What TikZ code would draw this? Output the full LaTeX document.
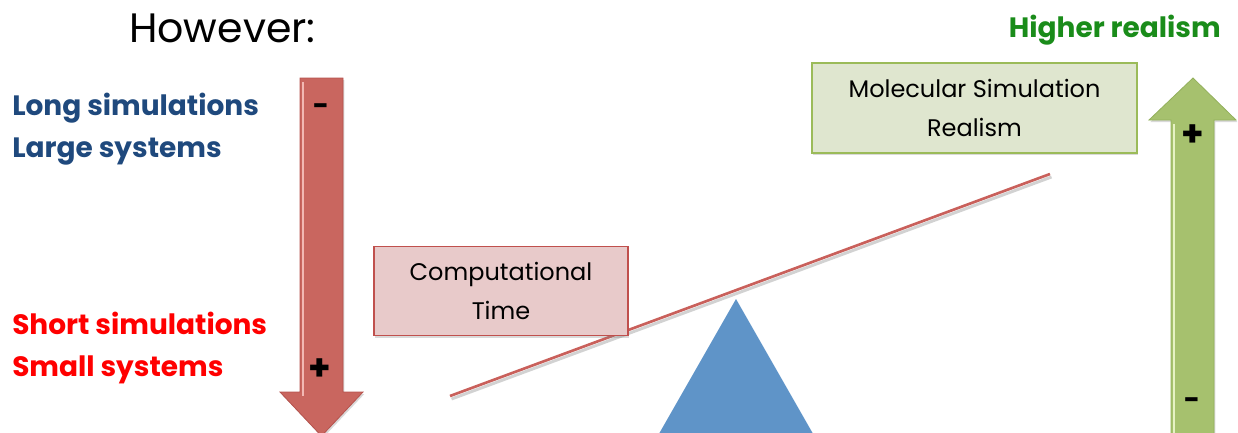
\documentclass[tikz,border=0pt]{standalone}
\usepackage{fontspec}
\setmainfont{Poppins}
\usetikzlibrary{shadows}
\definecolor{redarrow}{HTML}{C9665F}
\definecolor{redborder}{HTML}{B5524D}
\definecolor{redhi}{HTML}{F2B8B3}
\definecolor{greenarrow}{HTML}{A6C16E}
\definecolor{greenborder}{HTML}{93B05C}
\definecolor{greenhi}{HTML}{E6F2C4}
\definecolor{ctfill}{HTML}{E8CACA}
\definecolor{ctborder}{HTML}{C0504D}
\definecolor{msfill}{HTML}{DFE6CF}
\definecolor{msborder}{HTML}{9BBB59}
\definecolor{lever}{HTML}{C9605B}
\definecolor{tri}{HTML}{5F94C8}
\definecolor{bluetext}{HTML}{1F497D}
\definecolor{greentext}{HTML}{1A8C1A}
\begin{document}
\begin{tikzpicture}[x=0.75pt,y=-0.75pt,
  shd/.style={drop shadow={opacity=0.3,shadow xshift=1pt,shadow yshift=-1.5pt}},
  boxnode/.style={draw,line width=0.8pt,shd,align=center,inner sep=0pt,
    font=\fontsize{18}{29}\selectfont},
  sidetext/.style={anchor=west,align=left,font=\fontsize{21}{31.5}\selectfont\bfseries},
  sign/.style={font=\fontsize{27}{27}\selectfont\bfseries,inner sep=0pt},
  minussign/.style={font=\fontsize{21}{21}\selectfont\bfseries,inner sep=0pt}]
\useasboundingbox (0,0) rectangle (1238,432);
\clip (0,0) rectangle (1238,432);
% title
\node[anchor=west,inner sep=0pt,font=\fontsize{30.8}{34}\selectfont] (title) at (129,28) {However:};
% side texts
\node[sidetext,text=bluetext,inner sep=0pt] (longlarge) at (12,129) {Long simulations\\Large systems};
\node[sidetext,text=red,inner sep=0pt] (shortsmall) at (12,348) {Short simulations\\Small systems};
\node[anchor=east,inner sep=0pt,text=greentext,font=\fontsize{21}{24}\selectfont\bfseries] (higher) at (1221,30) {Higher realism};
% red arrow
\fill[redarrow,draw=redborder,line width=0.6pt,shd]
  (300,78) -- (343,78) -- (343,392) -- (363,392) -- (321.5,436) -- (280,392) -- (300,392) -- cycle;
\draw[redhi,line width=1.5pt] (303,82) -- (303,396);
\node[minussign] (rminus) at (321,110) {-};
\node[sign] (rplus) at (320,370) {+};
% green arrow
\fill[greenarrow,draw=greenborder,line width=0.6pt,shd]
  (1193,78) -- (1236,120) -- (1214,120) -- (1214,440) -- (1171,440) -- (1171,120) -- (1149,120) -- cycle;
\draw[greenhi,line width=1.5pt] (1174,124) -- (1174,440);
\node[sign] (gplus) at (1193,136) {+};
\node[minussign] (gminus) at (1192,404) {-};
% triangle
\fill[tri] (736,299) -- (820,446) -- (652,446) -- cycle;
% lever
\coordinate (l1) at (450,396);
\coordinate (l2) at (1050,174);
\draw[black!35,line width=2.2pt,opacity=0.5] ([shift={(1.5,3)}]l1) -- ([shift={(1.5,3)}]l2);
\draw[lever,line width=2pt] (l1) -- (l2);
% boxes
\node[boxnode,fill=ctfill,draw=ctborder,minimum width=190.5pt,minimum height=66.75pt] (ct) at (501,291) {Computational\\Time};
\node[boxnode,fill=msfill,draw=msborder,minimum width=243.75pt,minimum height=67.5pt] (ms) at (974.5,108) {Molecular Simulation\\Realism};
\end{tikzpicture}
\end{document}
